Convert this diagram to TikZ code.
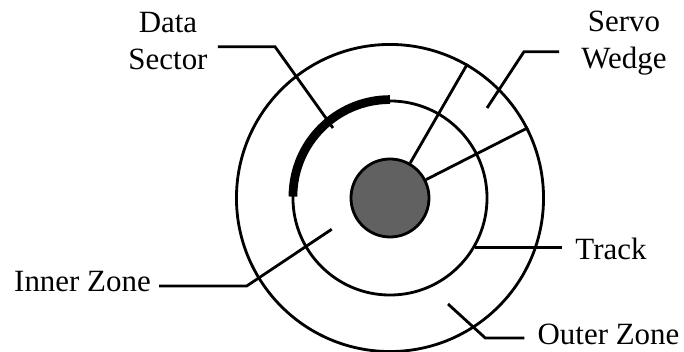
\documentclass[tikz,border=0pt]{standalone}
\usepackage{fontspec}
\setmainfont{Liberation Serif}
\usetikzlibrary{positioning,calc}

\begin{document}
\begin{tikzpicture}[x=0.025cm,y=0.025cm,
 ring/.style={draw,circle,inner sep=0pt,line width=2pt},
 lbl/.style={align=center,font=\fontsize{22pt}{26.3pt}\selectfont,inner ysep=0pt},
 ld/.style={line width=2pt}]
\useasboundingbox (-390,-154) rectangle (294,198);
% platter
\node[ring,minimum size=7.675cm] (outer) at (0,0) {};
\node[ring,minimum size=4.85cm] (track) at (0,0) {};
\node[ring,minimum size=1.95cm,fill=black!62] (hub) at (0,0) {};
% servo wedge
\draw[ld] (hub.60)--(outer.60); \draw[ld] (hub.27)--(outer.27);
% data sector
\draw[line width=6.2pt] (track.90) arc[start angle=90,end angle=180,radius=2.425cm];
% labels
\node[lbl,inner xsep=0.25cm] (ds) at (-222,157) {Data\\Sector};
\node[lbl,inner xsep=0.55cm] (sw) at (234,155) {Servo\\Wedge};
\node[lbl,inner xsep=0.325cm] (trk) at (221,-51) {Track};
\node[lbl,inner xsep=0.325cm] (oz) at (218.5,-136) {Outer Zone};
\node[lbl,inner xsep=0.2cm] (iz) at (-307.5,-84) {Inner Zone};
% leaders
\coordinate (ds-b) at (-115,151.3); \coordinate (ds-t) at (-57,70);
\draw[ld] (ds-b -| ds.east)--(ds-b)--(ds-t);
\coordinate (sw-b) at (134,146.3); \coordinate (sw-t) at (97,90);
\draw[ld] (sw-b -| sw.west)--(sw-b)--(sw-t);
\draw[ld] (track.-30 -| trk.west)--(track.-30);
\coordinate (oz-b) at (95.3,-140); \coordinate (oz-t) at (58,-106);
\draw[ld] (oz-b -| oz.west)--(oz-b)--(oz-t);
\coordinate (iz-b) at (-143.3,-88); \coordinate (iz-t) at (-58.3,-31.3);
\draw[ld] (iz-b -| iz.east)--(iz-b)--(iz-t);
\end{tikzpicture}
\end{document}
